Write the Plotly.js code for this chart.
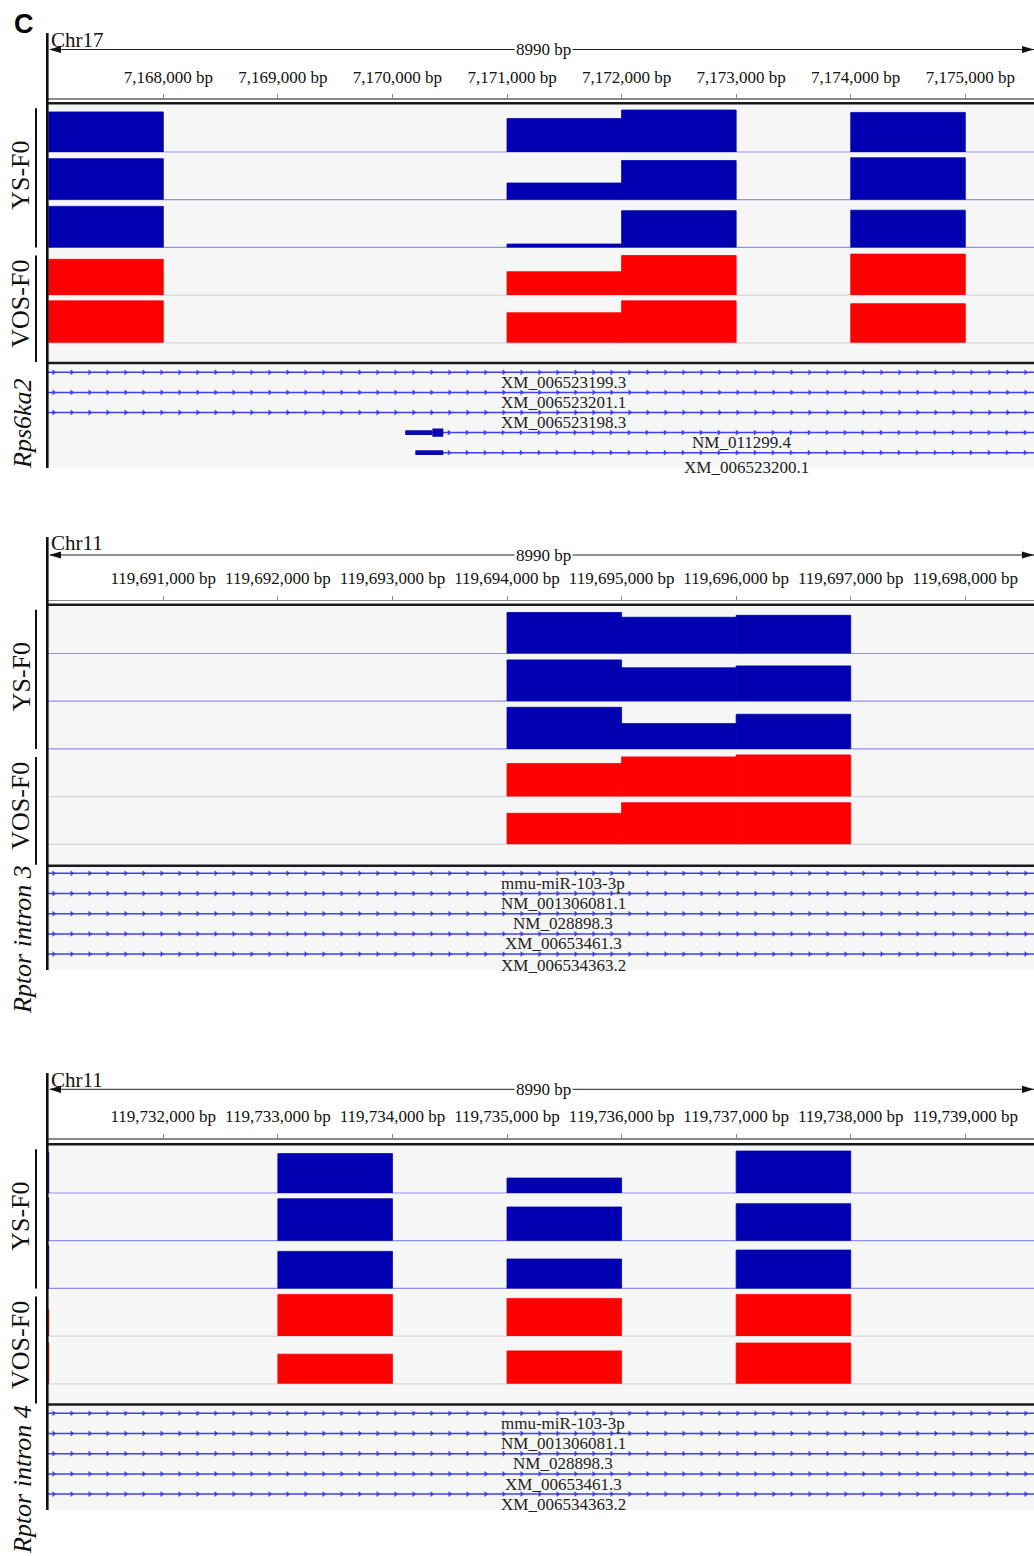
<!DOCTYPE html>
<html><head><meta charset="utf-8">
<script src="https://cdn.plot.ly/plotly-3.0.1.min.js"></script>
<style>html,body{margin:0;padding:0;background:#fff}#chart{width:1034px;height:1556px}</style>
</head><body><div id="chart"></div>
<script>
// ================= DATA =================
const panelLetter = "C";
const chromNames = ["Chr17", "Chr11", "Chr11"];
const windowLabel = "8990 bp";
const groupLabels = ["YS-F0", "VOS-F0"];
const geneTrackLabels = ["Rps6ka2", "Rptor intron 3", "Rptor intron 4"];

// ruler ticks
const p1TickVals = [7168000, 7169000, 7170000, 7171000, 7172000, 7173000, 7174000, 7175000];
const p1TickText = ["7,168,000 bp", "7,169,000 bp", "7,170,000 bp", "7,171,000 bp", "7,172,000 bp", "7,173,000 bp", "7,174,000 bp", "7,175,000 bp"];
const p2TickVals = [119691000, 119692000, 119693000, 119694000, 119695000, 119696000, 119697000, 119698000];
const p2TickText = ["119,691,000 bp", "119,692,000 bp", "119,693,000 bp", "119,694,000 bp", "119,695,000 bp", "119,696,000 bp", "119,697,000 bp", "119,698,000 bp"];
const p3TickVals = [119732000, 119733000, 119734000, 119735000, 119736000, 119737000, 119738000, 119739000];
const p3TickText = ["119,732,000 bp", "119,733,000 bp", "119,734,000 bp", "119,735,000 bp", "119,736,000 bp", "119,737,000 bp", "119,738,000 bp", "119,739,000 bp"];

// coverage bins (1 kb) and signal per track (data range 0-50)
const binSize = 1000;
const p1Bins = [7167000, 7171000, 7172000, 7174000];
const p1YS1 = [42, 35, 44, 41.5];
const p1YS2 = [43, 17.5, 41, 44];
const p1YS3 = [43, 3.5, 38.5, 39];
const p1VOS1 = [37.5, 24.5, 41.5, 43];
const p1VOS2 = [44, 31.5, 44, 41];

const p2Bins = [119694000, 119695000, 119696000];
const p2YS1 = [43, 38, 40];
const p2YS2 = [43.3, 35, 37];
const p2YS3 = [43.6, 26.5, 36.3];
const p2VOS1 = [34.6, 41.6, 43.7];
const p2VOS2 = [32.5, 43.6, 43.6];

const p3Bins = [119730000, 119733000, 119735000, 119737000];
const p3YS1 = [43, 41.3, 15.7, 44];
const p3YS2 = [45, 44, 35.3, 38.8];
const p3YS3 = [45, 38.8, 30.8, 40.2];
const p3VOS1 = [28, 43.7, 39.5, 43.7];
const p3VOS2 = [43, 31.1, 34.5, 42.7];

// transcripts (start, end in bp; exons: [start, end, 0=UTR / 1=CDS])
const p1TxNames = ["XM_006523199.3", "XM_006523201.1", "XM_006523198.3", "NM_011299.4", "XM_006523200.1"];
const p1TxStart = [7080000, 7080000, 7080000, 7170112, 7170200];
const p1TxEnd = [7303000, 7303000, 7303000, 7303000, 7303000];
const p1TxExons = [[], [], [], [[7170112, 7170348, 0], [7170348, 7170444, 1]], [[7170200, 7170444, 0]]];

const rptorTxNames = ["mmu-miR-103-3p", "NM_001306081.1", "NM_028898.3", "XM_00653461.3", "XM_006534363.2"];
const rptorTxStart = [119603000, 119603000, 119603000, 119603000, 119603000];
const rptorTxEnd = [119890000, 119890000, 119890000, 119890000, 119890000];
const rptorTxExons = [[], [], [], [], []];

// ================= STYLE / LAYOUT =================
const W = 1034, H = 1556;
const fx = px => px / W, fy = py => 1 - py / H;
const BP_PX = 0.114571;          // pixels per bp
const X0 = 48, X1 = 1034;        // data area in px
const FIRST_TICK_PX = 163.3;
const WINDOW_BP = 8990;
const TRACK_H = 47.7, TRACK_MAX = 50;
const BLUE = '#0000b0', RED = '#ff0000';
const TX_BLUE = '#4040f0', EXON_BLUE = '#0a0ab0';
const SERIF = 'Liberation Serif, Times New Roman, serif';
const BG = '#f6f6f6';

const geom = [
  {top: 33, chromY: 40, rulerY: 49.5, axisY: 98.3, trackTop: 104.3, tracksBottom: 363, row1: 372.3, rowH: 20.1, geneBottom: 468, shift: 5, geneLabelY: 424, lastLabelShift: -5},
  {top: 537, chromY: 543, rulerY: 555, axisY: 599.5, trackTop: 605.8, tracksBottom: 865.7, row1: 873.3, rowH: 20.2, geneBottom: 970, shift: 0, geneLabelY: 940, lastLabelShift: -1},
  {top: 1073, chromY: 1080, rulerY: 1089.3, axisY: 1138, trackTop: 1145.3, tracksBottom: 1404.5, row1: 1413.3, rowH: 20.2, geneBottom: 1510, shift: 0, geneLabelY: 1480, lastLabelShift: 0}
];

const panels = [
  {chrom: chromNames[0], tickVals: p1TickVals, tickText: p1TickText, bins: p1Bins, tracks: [p1YS1, p1YS2, p1YS3, p1VOS1, p1VOS2],
   txNames: p1TxNames, txStart: p1TxStart, txEnd: p1TxEnd, txExons: p1TxExons, geneLabel: geneTrackLabels[0]},
  {chrom: chromNames[1], tickVals: p2TickVals, tickText: p2TickText, bins: p2Bins, tracks: [p2YS1, p2YS2, p2YS3, p2VOS1, p2VOS2],
   txNames: rptorTxNames, txStart: rptorTxStart, txEnd: rptorTxEnd, txExons: rptorTxExons, geneLabel: geneTrackLabels[1]},
  {chrom: chromNames[2], tickVals: p3TickVals, tickText: p3TickText, bins: p3Bins, tracks: [p3YS1, p3YS2, p3YS3, p3VOS1, p3VOS2],
   txNames: rptorTxNames, txStart: rptorTxStart, txEnd: rptorTxEnd, txExons: rptorTxExons, geneLabel: geneTrackLabels[2]}
];

const data = [], shapes = [], annotations = [];
const layout = {
  width: W, height: H, margin: {l: 0, r: 0, t: 0, b: 0},
  paper_bgcolor: '#ffffff', plot_bgcolor: 'rgba(0,0,0,0)', showlegend: false,
  shapes, annotations, hovermode: false
};

function hline(y, x0, x1, color, width, layer) {
  shapes.push({type: 'line', xref: 'paper', yref: 'paper', x0: fx(x0), x1: fx(x1), y0: fy(y), y1: fy(y), line: {color, width}, layer: layer || 'above'});
}
function vline(x, y0, y1, color, width) {
  shapes.push({type: 'line', xref: 'paper', yref: 'paper', x0: fx(x), x1: fx(x), y0: fy(y0), y1: fy(y1), line: {color, width}, layer: 'above'});
}

annotations.push({xref: 'paper', yref: 'paper', x: fx(24), y: fy(24), text: '<b>' + panelLetter + '</b>', showarrow: false,
  font: {family: 'Liberation Sans, Arial, sans-serif', size: 27, color: '#000'}, xanchor: 'center', yanchor: 'middle'});

panels.forEach((P, pi) => {
  const g = geom[pi];
  const xa = pi === 0 ? 'x' : 'x' + (pi + 1);
  const xKey = pi === 0 ? 'xaxis' : 'xaxis' + (pi + 1);
  const vs = P.tickVals[0] - (FIRST_TICK_PX - X0) / BP_PX;
  const ve = vs + (X1 - X0) / BP_PX;
  const winEnd = vs + WINDOW_BP;

  layout[xKey] = {
    domain: [fx(X0), 1], range: [vs, ve], anchor: 'free', position: fy(g.axisY), side: 'top',
    ticks: 'outside', ticklen: 4, tickwidth: 1, tickcolor: '#8a8a8a',
    showline: true, linecolor: '#8a8a8a', linewidth: 1.5,
    tickmode: 'array', tickvals: P.tickVals, ticktext: P.tickText,
    tickfont: {family: SERIF, size: 17, color: '#111'},
    showgrid: false, zeroline: false, fixedrange: true,
    ticklabelstandoff: 5, ticklabelshift: g.shift
  };

  // backgrounds
  shapes.push({type: 'rect', xref: 'paper', yref: 'paper', x0: fx(X0), x1: 1, y0: fy(g.tracksBottom), y1: fy(g.trackTop), fillcolor: BG, line: {width: 0}, layer: 'below'});
  shapes.push({type: 'rect', xref: 'paper', yref: 'paper', x0: fx(X0), x1: 1, y0: fy(g.geneBottom), y1: fy(g.tracksBottom), fillcolor: BG, line: {width: 0}, layer: 'below'});

  // coverage tracks
  P.tracks.forEach((vals, ti) => {
    const yi = pi * 6 + ti + 1;
    const ya = yi === 1 ? 'y' : 'y' + yi;
    const yKey = yi === 1 ? 'yaxis' : 'yaxis' + yi;
    const top = g.trackTop + ti * TRACK_H, bot = top + TRACK_H;
    layout[yKey] = {domain: [fy(bot), fy(top)], range: [0, TRACK_MAX], visible: false, fixedrange: true, anchor: xa};
    const isYS = ti < 3;
    hline(bot, X0, X1, isYS ? '#9090f2' : '#d6d6d6', 1.2, 'below');
    data.push({
      type: 'bar', x: P.bins.map(b => b + binSize / 2), y: vals, width: P.bins.map(() => binSize),
      xaxis: xa, yaxis: ya,
      marker: {color: isYS ? BLUE : RED, line: {width: 0.8, color: isYS ? BLUE : RED}},
      hoverinfo: 'skip'
    });
  });

  // gene track
  const gi = pi * 6 + 6;
  const gya = 'y' + gi;
  const nRows = P.txNames.length;
  layout['yaxis' + gi] = {
    domain: [fy(g.row1 + (nRows + 0.5) * g.rowH), fy(g.row1 - 0.5 * g.rowH)],
    range: [nRows + 1.5, 0.5], visible: false, fixedrange: true, anchor: xa
  };
  const arrowStep = 18 / BP_PX;
  P.txNames.forEach((name, ri) => {
    const row = ri + 1;
    data.push({type: 'scatter', mode: 'lines', x: [P.txStart[ri], P.txEnd[ri]], y: [row, row], xaxis: xa, yaxis: gya,
      line: {color: TX_BLUE, width: 1.5}, hoverinfo: 'skip'});
    const exons = P.txExons[ri];
    let intronStart = P.txStart[ri];
    exons.forEach(e => {
      const hh = e[2] === 1 ? 0.21 : 0.12;
      shapes.push({type: 'rect', xref: xa, yref: gya, x0: e[0], x1: e[1], y0: row - hh, y1: row + hh,
        fillcolor: EXON_BLUE, line: {width: 0}, layer: 'above'});
      intronStart = Math.max(intronStart, e[1]);
    });
    const ax = [];
    for (let x = Math.max(intronStart, vs) + 50; x < Math.min(P.txEnd[ri], ve); x += arrowStep) ax.push(x);
    data.push({type: 'scatter', mode: 'markers', x: ax, y: ax.map(() => row), xaxis: xa, yaxis: gya,
      marker: {symbol: 'triangle-right', size: 5, color: TX_BLUE}, hoverinfo: 'skip'});
    const visCenter = (Math.max(P.txStart[ri], vs) + Math.min(P.txEnd[ri], winEnd)) / 2;
    annotations.push({xref: xa, yref: gya, x: visCenter, y: row + 0.5,
      yshift: ri === nRows - 1 ? g.lastLabelShift : 0,
      text: name, showarrow: false, font: {family: SERIF, size: 17, color: '#222'}, xanchor: 'center', yanchor: 'middle'});
  });

  // frame lines
  hline(g.trackTop - 1, X0 - 1, X1, '#1a1a1a', 2.6);
  hline(g.tracksBottom, X0 - 1, X1, '#1a1a1a', 2.6);
  vline(47.3, g.top, g.geneBottom, '#111', 2.6);

  // ruler
  hline(g.rulerY, X0 + 2, X1, '#222', 1);
  shapes.push({type: 'path', xref: 'paper', yref: 'paper', layer: 'above',
    path: `M ${fx(49)} ${fy(g.rulerY)} L ${fx(61)} ${fy(g.rulerY - 3.6)} L ${fx(61)} ${fy(g.rulerY + 3.6)} Z`,
    fillcolor: '#111', line: {width: 0}});
  shapes.push({type: 'path', xref: 'paper', yref: 'paper', layer: 'above',
    path: `M ${fx(1034)} ${fy(g.rulerY)} L ${fx(1022)} ${fy(g.rulerY - 3.6)} L ${fx(1022)} ${fy(g.rulerY + 3.6)} Z`,
    fillcolor: '#111', line: {width: 0}});
  annotations.push({xref: 'paper', yref: 'paper', x: fx(543), y: fy(g.rulerY), text: windowLabel, showarrow: false,
    bgcolor: '#ffffff', borderpad: 1, font: {family: SERIF, size: 17, color: '#111'}, xanchor: 'center', yanchor: 'middle'});
  annotations.push({xref: 'paper', yref: 'paper', x: fx(48.5), y: fy(g.chromY), text: P.chrom, showarrow: false,
    font: {family: SERIF, size: 21, color: '#111'}, xanchor: 'left', yanchor: 'middle'});

  // left group labels + brackets
  const ysTop = g.trackTop + 4, ysBot = g.trackTop + 3 * TRACK_H;
  const vosTop = g.trackTop + 3 * TRACK_H + 8, vosBot = g.tracksBottom - 1;
  vline(36, ysTop, ysBot, '#111', 2);
  vline(36, vosTop, vosBot, '#111', 2);
  annotations.push({xref: 'paper', yref: 'paper', x: fx(21), y: fy((ysTop + ysBot) / 2 - 2), text: groupLabels[0], textangle: -90,
    showarrow: false, font: {family: SERIF, size: 26, color: '#111'}, xanchor: 'center', yanchor: 'middle'});
  annotations.push({xref: 'paper', yref: 'paper', x: fx(21), y: fy((vosTop + vosBot) / 2 - 5), text: groupLabels[1], textangle: -90,
    showarrow: false, font: {family: SERIF, size: 26, color: '#111'}, xanchor: 'center', yanchor: 'middle'});
  annotations.push({xref: 'paper', yref: 'paper', x: fx(22), y: fy(g.geneLabelY), text: '<i>' + P.geneLabel + '</i>', textangle: -90,
    showarrow: false, font: {family: SERIF, size: 26, color: '#111'}, xanchor: 'center', yanchor: 'middle'});
});

Plotly.newPlot('chart', data, layout, {staticPlot: true, displayModeBar: false});
</script>
</body></html>
